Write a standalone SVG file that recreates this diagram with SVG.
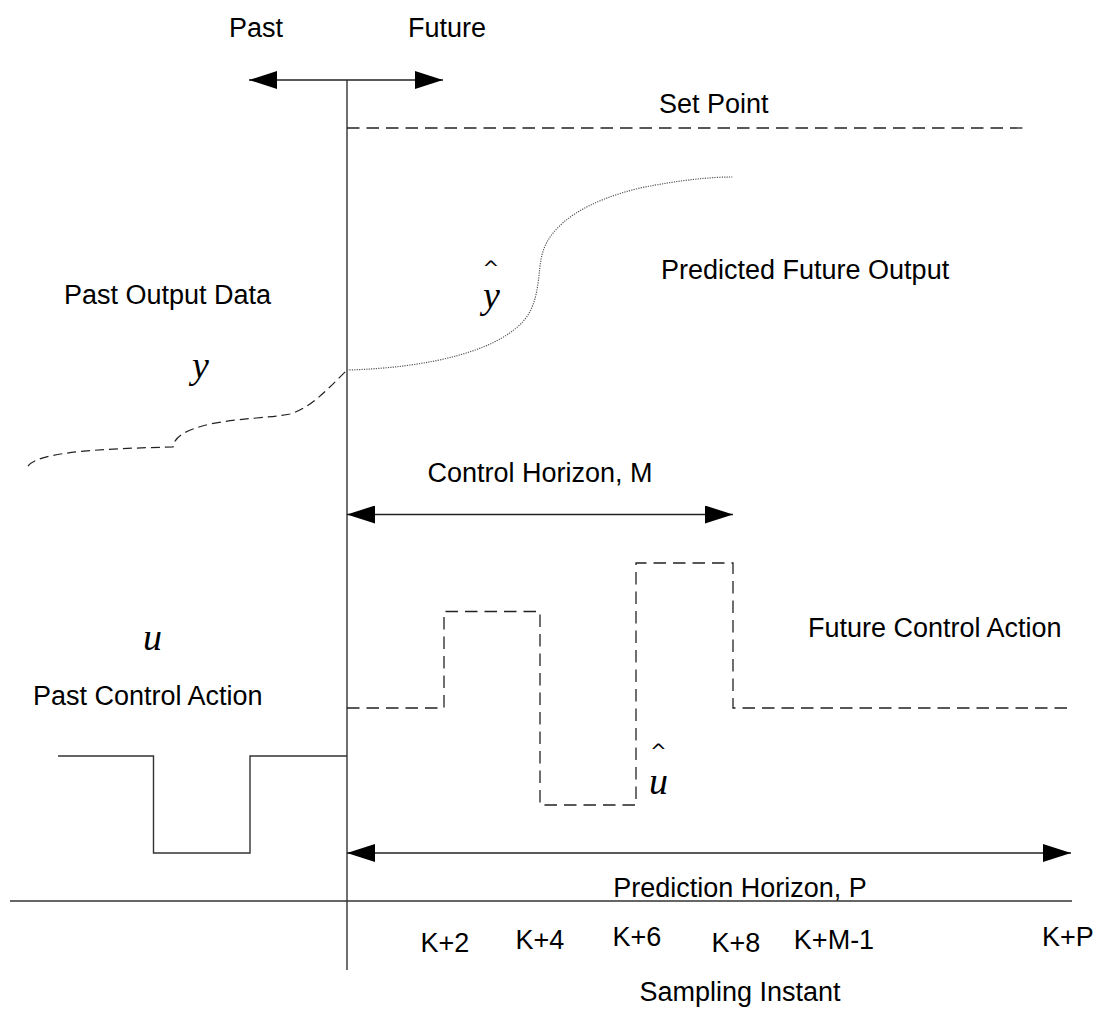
<svg xmlns="http://www.w3.org/2000/svg" width="1099" height="1023" viewBox="0 0 1099 1023">
  <style>
    .lbl { font-family: "Liberation Sans", Arial, sans-serif; font-size: 27px; fill: #000; }
    .mid { text-anchor: middle; }
    .sym { font-family: "Liberation Serif", "Times New Roman", serif; font-style: italic; font-size: 38px; fill: #000; }
    .hat { font-family: "DejaVu Sans", sans-serif; font-size: 20px; fill: #000; }
    .axis { stroke: #333; stroke-width: 1.4; fill: none; }
    .dim { stroke: #222; stroke-width: 1.3; fill: none; }
    .dash { stroke: #222; stroke-width: 1.3; fill: none; stroke-dasharray: 12.5 7; }
    .dash-short { stroke: #222; stroke-width: 1.2; fill: none; stroke-dasharray: 9 5; }
    .dot { stroke: #555; stroke-width: 1.2; fill: none; stroke-dasharray: 1.2 1.2; }
  </style>
  <defs>
    <marker id="head" viewBox="0 0 28 18" refX="28" refY="9" markerWidth="28" markerHeight="18" markerUnits="userSpaceOnUse" orient="auto-start-reverse">
      <path d="M0,0 L28,9 L0,18 Z" fill="#000"/>
    </marker>
  </defs>
  <rect width="1099" height="1023" fill="#fff"/>

  <g id="connectors">
    <!-- time axis and present-instant divider -->
    <line id="now-line" class="axis" x1="347" y1="80" x2="347" y2="970"/>
    <line id="time-axis" class="axis" x1="10" y1="901" x2="1072" y2="901"/>
    <!-- past / future direction arrow -->
    <line id="past-future" class="dim" x1="249" y1="80" x2="443" y2="80" marker-start="url(#head)" marker-end="url(#head)"/>
    <!-- horizons -->
    <line id="control-horizon" class="dim" x1="347" y1="514.5" x2="733" y2="514.5" marker-start="url(#head)" marker-end="url(#head)"/>
    <line id="prediction-horizon" class="dim" x1="347" y1="853" x2="1071" y2="853" marker-start="url(#head)" marker-end="url(#head)"/>
  </g>

  <g id="set-point">
    <line class="dash" x1="347" y1="128" x2="1023" y2="128"/>
    <text class="lbl" x="659" y="113">Set Point</text>
  </g>

  <g id="past-output">
    <path class="dash-short" d="M28,466 C38,454 80,449 173,447 C174,437 185,430 210,424 C240,418 270,418 290,414 C310,408 325,392 347,370"/>
    <text class="lbl" x="64" y="304">Past Output Data</text>
    <text class="sym" x="192" y="378">y</text>
  </g>

  <g id="predicted-output">
    <path class="dot" d="M347,370 C430,368 505,350 528,315 C540,296 538,270 542,255 C550,222 590,200 640,188 C680,180 710,177 733,177"/>
    <text class="lbl" x="661" y="279">Predicted Future Output</text>
    <text class="hat" x="482.5" y="275">^</text>
    <text class="sym" x="483" y="308">y</text>
  </g>

  <g id="past-control">
    <path class="axis" d="M58,756 H153.5 V853 H250 V756 H347"/>
    <text class="sym" x="143" y="650">u</text>
    <text class="lbl" x="33" y="705">Past Control Action</text>
  </g>

  <g id="future-control">
    <path class="dash" d="M347,708 H444 V611.5 H540 V805 H636 V563 H733 V708 H1072"/>
    <text class="lbl" x="808" y="637">Future Control Action</text>
    <text class="hat" x="650" y="758">^</text>
    <text class="sym" x="649" y="794">u</text>
  </g>

  <g id="labels">
    <text class="lbl" x="229" y="37">Past</text>
    <text class="lbl" x="408" y="37">Future</text>
    <text class="lbl mid" x="540" y="482">Control Horizon, M</text>
    <text class="lbl mid" x="740" y="897">Prediction Horizon, P</text>
    <text class="lbl mid" x="740" y="1001">Sampling Instant</text>
  </g>

  <g id="ticks">
    <text class="lbl mid" x="445" y="952">K+2</text>
    <text class="lbl mid" x="540" y="949">K+4</text>
    <text class="lbl mid" x="637" y="946">K+6</text>
    <text class="lbl mid" x="736" y="952">K+8</text>
    <text class="lbl mid" x="834" y="949">K+M-1</text>
    <text class="lbl mid" x="1068" y="946">K+P</text>
  </g>
</svg>
